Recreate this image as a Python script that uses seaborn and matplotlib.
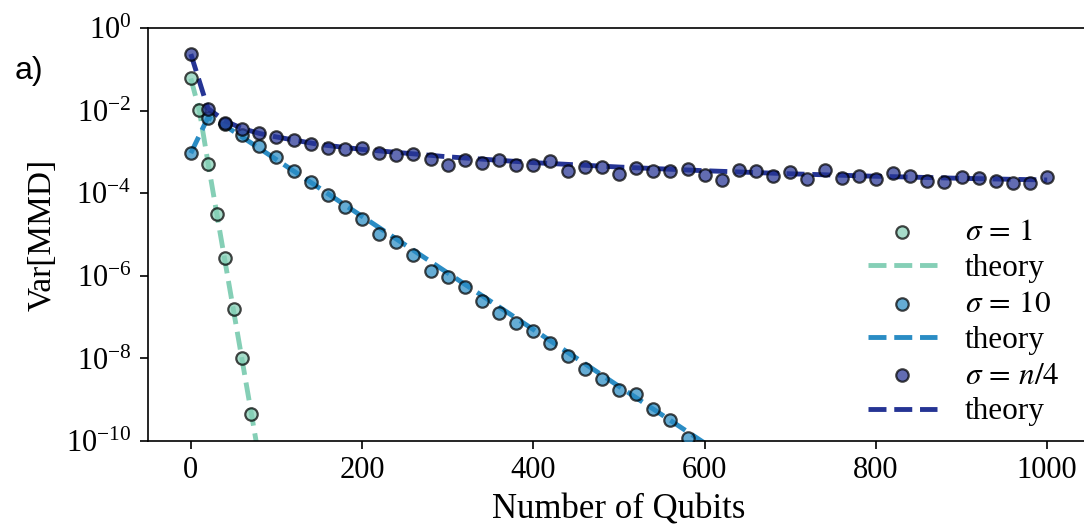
import matplotlib
matplotlib.use("Agg")
import matplotlib.pyplot as plt
import seaborn as sns
import numpy as np

# ---- data ----
qubits_s1 = [0, 10, 20, 30, 40, 50, 60, 70]
var_s1 = [6.0e-2, 1.02e-2, 5.0e-4, 3.1e-5, 2.75e-6, 1.6e-7, 1.05e-8, 4.5e-10]
theory_qubits_s1 = [0, 10, 20, 30, 40, 50, 60, 70, 80]
theory_s1 = [6.0e-2, 1.0e-2, 5.6e-4, 3.5e-5, 2.2e-6, 1.4e-7, 8.9e-9, 5.6e-10, 3.5e-11]

qubits_s10 = list(range(0, 601, 20))
var_s10 = [9.3e-4, 6.8e-3, 4.8e-3, 2.5e-3, 1.38e-3, 7.6e-4, 3.5e-4, 1.82e-4, 8.9e-5, 4.6e-5,
           2.4e-5, 1.05e-5, 6.5e-6, 3.2e-6, 1.29e-6, 9.1e-7, 5.5e-7, 2.4e-7, 1.29e-7, 7.4e-8,
           4.7e-8, 2.3e-8, 1.15e-8, 5.5e-9, 3.2e-9, 1.7e-9, 1.35e-9, 5.9e-10, 3.2e-10, 1.2e-10,
           5.0e-11]
theory_qubits_s10 = [0, 20, 40, 100, 200, 300, 400, 500, 600, 640]
theory_s10 = [9.3e-4, 6.8e-3, 4.3e-3, 6.5e-4, 2.75e-5, 1.17e-6, 5.0e-8, 2.1e-9, 8.9e-11, 2.5e-11]

qubits_sn4 = list(range(0, 1001, 20))
var_sn4 = [2.34e-1, 1.07e-2, 5.0e-3, 3.55e-3, 2.88e-3, 2.29e-3, 1.91e-3, 1.58e-3, 1.26e-3, 1.20e-3,
           1.26e-3, 9.3e-4, 8.3e-4, 8.7e-4, 6.6e-4, 4.7e-4, 6.3e-4, 5.4e-4, 6.3e-4, 4.7e-4,
           4.7e-4, 5.9e-4, 3.5e-4, 4.3e-4, 4.2e-4, 2.9e-4, 4.1e-4, 3.4e-4, 3.5e-4, 3.8e-4,
           2.7e-4, 2.1e-4, 3.7e-4, 3.4e-4, 2.6e-4, 3.2e-4, 2.2e-4, 3.7e-4, 2.3e-4, 2.6e-4,
           2.2e-4, 3.0e-4, 2.6e-4, 1.95e-4, 1.86e-4, 2.4e-4, 2.3e-4, 2.0e-4, 1.78e-4, 1.78e-4,
           2.45e-4]
theory_qubits_sn4 = [0, 20, 40, 60, 80, 100, 150, 200, 300, 400, 500, 600, 700, 800, 900, 1000]
theory_sn4 = [2.34e-1, 1.12e-2, 5.6e-3, 3.7e-3, 2.8e-3, 2.3e-3, 1.51e-3, 1.15e-3, 7.6e-4, 5.5e-4,
              4.3e-4, 3.5e-4, 2.95e-4, 2.57e-4, 2.29e-4, 2.09e-4]

labels = [r"$\sigma\,=\,1$", r"$\sigma\,=\,10$", r"$\sigma\,=\,n/4$"]
line_colors = ["#85cfb6", "#2a8cc4", "#253494"]
y_ticks = [1e-10, 1e-8, 1e-6, 1e-4, 1e-2, 1e0]
x_ticks = [0, 200, 400, 600, 800, 1000]

# ---- style ----
sns.set_style("ticks")
plt.rcParams["font.family"] = ["Liberation Serif", "DejaVu Serif"]
plt.rcParams["mathtext.fontset"] = "stix"
for k in ["text.color", "axes.labelcolor", "xtick.color", "ytick.color", "axes.edgecolor"]:
    plt.rcParams[k] = "black"

fig = plt.figure(figsize=(10.84, 5.25), dpi=100)
ax = fig.add_axes([148 / 1084, 84 / 525, 942 / 1084, 413 / 525])

series = [
    (qubits_s1, var_s1, theory_qubits_s1, theory_s1),
    (qubits_s10, var_s10, theory_qubits_s10, theory_s10),
    (qubits_sn4, var_sn4, theory_qubits_sn4, theory_sn4),
]
for (qx, qv, tx, tv), lab, col in zip(series, labels, line_colors):
    sns.scatterplot(x=qx, y=qv, ax=ax, color=col, s=80, alpha=0.72,
                    edgecolor="black", linewidth=1.6, label=lab, zorder=3)
    sns.lineplot(x=tx, y=tv, ax=ax, color=col, lw=3.5, ls="--",
                 label="theory", zorder=2)

ax.set_yscale("log")
ax.set_ylim(1e-10, 1e0)
ax.set_xlim(-50, 1050)
ax.set_yticks(y_ticks)
ax.yaxis.set_minor_locator(matplotlib.ticker.NullLocator())
ax.set_xticks(x_ticks)
ax.tick_params(axis="both", which="major", labelsize=22, length=6, width=1.2,
               direction="out")
ax.tick_params(axis="y", pad=6)
ax.tick_params(axis="x", pad=5)
for s in ["left", "bottom", "top", "right"]:
    ax.spines[s].set_linewidth(1.2)

ax.set_xlabel("Number of Qubits", fontsize=25, labelpad=6)
ax.set_ylabel("Var[MMD]", fontsize=24, labelpad=6)

leg = ax.legend(loc="lower right", bbox_to_anchor=(1072 / 1084, 86 / 525),
                bbox_transform=fig.transFigure, frameon=False, fontsize=22.5,
                handlelength=2.2, handletextpad=0.9, labelspacing=0.22,
                borderaxespad=0.0)

fig.text(15 / 1084, 1 - 79 / 525, "a)", fontsize=23,
         family=["Liberation Sans", "DejaVu Sans"], ha="left", va="baseline")

fig.savefig("out.png", dpi=100)
